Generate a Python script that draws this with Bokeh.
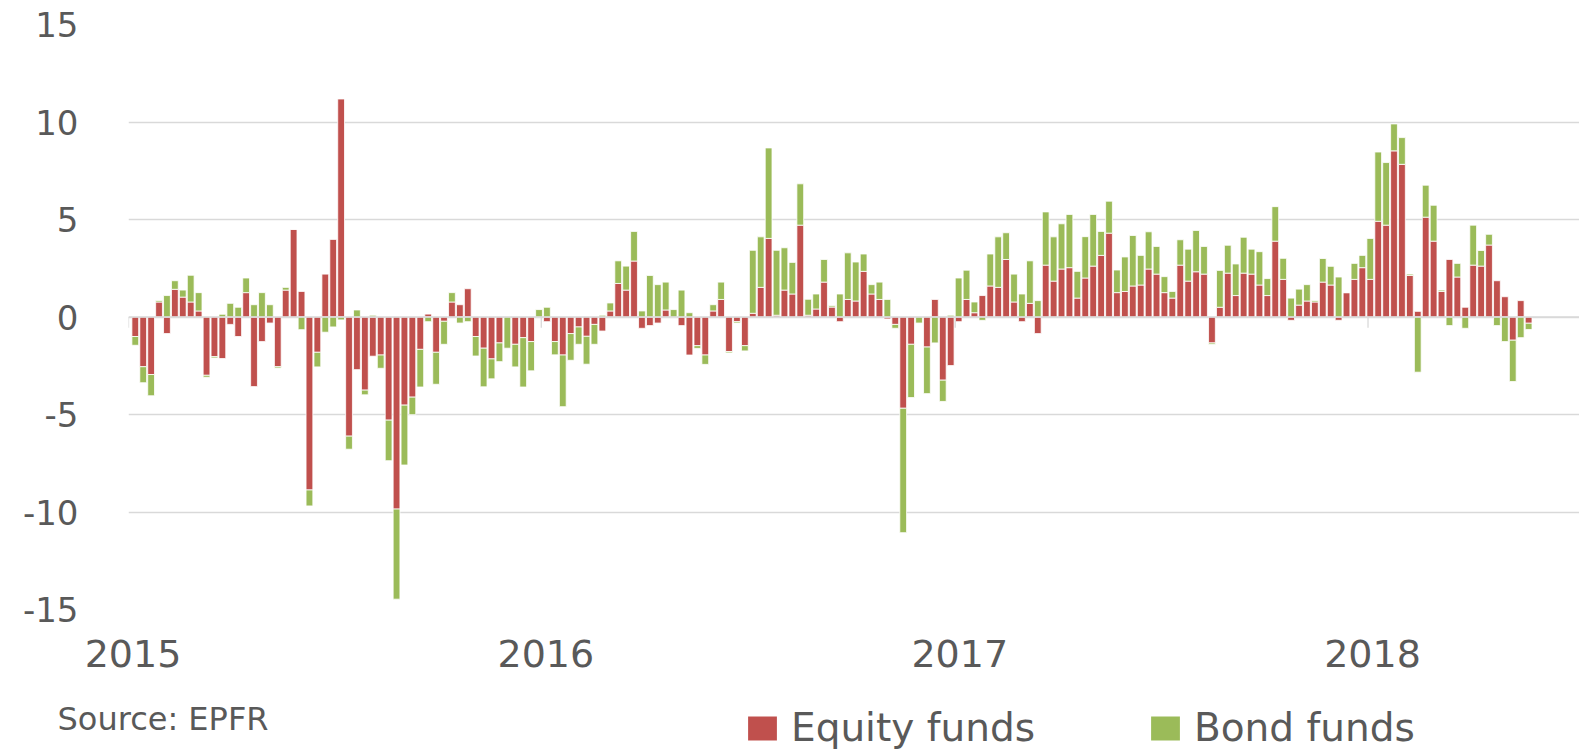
import numpy as np
import pandas as pd
from bokeh.plotting import figure
from bokeh.models import (ColumnDataSource, FixedTicker, Legend, LegendItem, Label,
                          Span, DatetimeTickFormatter, PrintfTickFormatter)
from bokeh.embed import file_html
from bokeh.resources import INLINE

# Weekly fund flows, first week ending 2015-01-07
equity = [
    -1.0, -2.55, -2.95, 0.77, -0.85, 1.42, 1.02, 0.77, 0.31, -2.99,
    -2.03, -2.13, -0.38, -1.0, 1.25, -3.57, -1.26, -0.31, -2.55, 1.38,
    4.5, 1.31, -8.87, -1.81, 2.2, 3.98, 11.18, -6.11, -2.7, -3.75,
    -2.01, -1.95, -5.29, -9.85, -4.52, -4.11, -1.66, 0.15, -1.81, -0.22,
    0.77, 0.63, 1.45, -1.0, -1.6, -2.15, -1.33, 0.0, -1.4, -1.06,
    -1.26, 0.0, -0.24, -1.26, -1.95, -0.85, -0.51, -0.99, -0.38, -0.72,
    0.31, 1.72, 1.38, 2.87, -0.58, -0.44, -0.31, 0.36, 0.0, -0.44,
    -1.95, -1.47, -1.95, 0.31, 0.9, -1.77, -0.24, -1.47, 0.19, 1.52,
    4.03, 0.09, 1.38, 1.18, 4.71, 0.09, 0.41, 1.79, 0.51, -0.24,
    0.9, 0.82, 2.34, 1.18, 0.9, -0.1, -0.38, -4.68, -1.4, 0.0,
    -1.54, 0.9, -3.24, -2.49, -0.24, 0.9, 0.22, 1.1, 1.59, 1.52,
    2.95, 0.77, -0.24, 0.7, -0.85, 2.66, 1.84, 2.46, 2.53, 0.97,
    2.0, 2.61, 3.16, 4.3, 1.25, 1.31, 1.59, 1.64, 2.46, 2.2,
    1.25, 0.97, 2.66, 1.84, 2.32, 2.2, -1.33, 0.5, 2.25, 1.1,
    2.25, 2.2, 1.64, 1.1, 3.89, 1.93, -0.17, 0.61, 0.82, 0.77,
    1.79, 1.64, -0.17, 1.25, 1.93, 2.53, 1.93, 4.91, 4.71, 8.52,
    7.83, 2.13, 0.29, 5.12, 3.89, 1.31, 2.95, 2.05, 0.5, 2.66,
    2.61, 3.69, 1.86, 1.04, -1.19, 0.84, -0.32,
]
bond = [
    -0.45, -0.82, -1.09, 0.08, 1.1, 0.44, 0.36, 1.37, 0.94, -0.1,
    -0.07, 0.14, 0.7, 0.5, 0.75, 0.63, 1.25, 0.63, -0.07, 0.14,
    0.0, -0.65, -0.82, -0.75, -0.78, -0.51, -0.15, -0.67, 0.36, -0.24,
    0.09, -0.68, -2.08, -4.62, -3.07, -0.9, -1.93, -0.24, -1.64, -1.18,
    0.48, -0.31, -0.24, -1.0, -1.98, -1.02, -0.96, -1.6, -1.16, -2.53,
    -1.5, 0.38, 0.5, -0.68, -2.65, -1.37, -0.89, -1.43, -1.02, 0.09,
    0.41, 1.16, 1.23, 1.52, 0.31, 2.13, 1.66, 1.43, 0.38, 1.38,
    0.22, -0.14, -0.48, 0.32, 0.89, -0.07, -0.07, -0.27, 3.23, 2.59,
    4.64, 3.33, 2.17, 1.62, 2.12, 0.82, 0.77, 1.16, 0.07, 1.18,
    2.39, 2.0, 0.89, 0.48, 0.89, 0.9, -0.2, -6.38, -2.73, -0.31,
    -2.39, -1.33, -1.09, 0.09, 2.0, 1.5, 0.55, -0.17, 1.64, 2.59,
    1.37, 1.43, 1.18, 2.18, 0.84, 2.73, 2.27, 2.32, 2.73, 1.37,
    2.12, 2.65, 1.23, 1.64, 1.16, 1.77, 2.59, 1.52, 1.91, 1.42,
    0.82, 0.34, 1.3, 1.64, 2.12, 1.42, -0.07, 1.89, 1.43, 1.62,
    1.84, 1.28, 1.71, 0.87, 1.77, 1.08, 0.97, 0.82, 0.84, 0.07,
    1.21, 0.96, 2.05, 0.0, 0.82, 0.63, 2.1, 3.55, 3.21, 1.38,
    1.37, 0.07, -2.83, 1.64, 1.84, 0.07, -0.44, 0.7, -0.58, 2.05,
    0.8, 0.55, -0.44, -1.26, -2.12, -1.06, -0.32,
]
series_names = ["Equity funds", "Bond funds"]
year_labels = ["2015", "2016", "2017", "2018"]
y_ticks = [-15, -10, -5, 0, 5, 10, 15]
source_text = "Source: EPFR"

RED = "#C0504D"
GREEN = "#9BBB59"
GRID = "#D9D9D9"
TEXT = "#595959"
FONT = "DejaVu Sans"

dates = pd.date_range("2015-01-07", periods=len(equity), freq="7D")
e = np.array(equity, dtype=float)
b = np.array(bond, dtype=float)
b_base = np.where(b >= 0, np.maximum(e, 0), np.minimum(e, 0))
src = ColumnDataSource(dict(x=dates, e0=np.zeros_like(e), e1=e, b0=b_base, b1=b_base + b))

x_start = pd.Timestamp("2015-01-01")
x_end = x_start + pd.Timedelta(days=1283)

p = figure(width=1579, height=690, x_axis_type="datetime",
           x_range=(x_start, x_end), y_range=(-15, 15),
           output_backend="svg", toolbar_location=None,
           min_border_left=128, min_border_right=0,
           min_border_top=24, min_border_bottom=81)
p.outline_line_color = None
p.background_fill_color = "white"

bar_w = pd.Timedelta(days=6).total_seconds() * 1000
r_e = p.vbar(x="x", width=bar_w, bottom="e0", top="e1", source=src,
             fill_color=RED, line_color="white", line_width=0.8)
r_b = p.vbar(x="x", width=bar_w, bottom="b0", top="b1", source=src,
             fill_color=GREEN, line_color="white", line_width=0.8)

# axis crossing line and year tick marks
p.add_layout(Span(location=0, dimension="width", line_color=GRID,
                  line_width=1.6, level="overlay"))
year_starts = pd.to_datetime([f"{y}-01-01" for y in year_labels])
p.segment(x0=year_starts, y0=0, x1=year_starts, y1=-0.55,
          line_color=GRID, line_width=1.3)

# grids
p.xgrid.visible = False
p.ygrid.ticker = FixedTicker(ticks=y_ticks)
p.ygrid.grid_line_color = GRID
p.ygrid.grid_line_width = 1.3

# y axis
p.yaxis.ticker = FixedTicker(ticks=y_ticks)
p.yaxis.formatter = PrintfTickFormatter(format="%d")
p.yaxis.axis_line_color = None
p.yaxis.major_tick_line_color = None
p.yaxis.minor_tick_line_color = None
p.yaxis.major_label_standoff = 44
p.yaxis.major_label_text_font = FONT
p.yaxis.major_label_text_font_size = "34px"
p.yaxis.major_label_text_color = TEXT

# x axis
label_pos = pd.to_datetime([f"{y}-01-05" for y in year_labels])
p.xaxis.ticker = FixedTicker(ticks=[t.value / 1e6 for t in label_pos])
p.xaxis.formatter = DatetimeTickFormatter(years="%Y", months="%Y", days="%Y")
p.xaxis.axis_line_color = None
p.xaxis.major_tick_line_color = None
p.xaxis.minor_tick_line_color = None
p.xaxis.major_label_standoff = 24
p.xaxis.major_label_text_font = FONT
p.xaxis.major_label_text_font_size = "38px"
p.xaxis.major_label_text_color = TEXT

# footer strip (separate root, so its frame is not aligned with the chart)
q = figure(width=1579, height=60, x_range=(0, 1), y_range=(0, 1),
           output_backend="svg", toolbar_location=None,
           x_axis_location=None, y_axis_location=None,
           min_border=0, min_border_left=0, min_border_right=0,
           min_border_top=0, min_border_bottom=0)
q.outline_line_color = None
q.grid.visible = False
# zero-height legend proxies (draw nothing themselves)
proxy = ColumnDataSource(dict(x=[0.5], top=[0.0], bottom=[0.0]))
k_e = q.vbar(x="x", top="top", bottom="bottom", width=0.0, source=proxy,
             fill_color=RED, line_color=None)
k_b = q.vbar(x="x", top="top", bottom="bottom", width=0.0, source=proxy,
             fill_color=GREEN, line_color=None)

for name, rend, xpos in [(series_names[0], k_e, 744), (series_names[1], k_b, 1147)]:
    leg = Legend(items=[LegendItem(label=name, renderers=[rend])],
                 location=(xpos, 0), orientation="horizontal",
                 glyph_width=36, glyph_height=30, label_standoff=11,
                 label_height=30, label_text_font=FONT,
                 label_text_font_size="39px", label_text_color=TEXT,
                 padding=0, margin=0, border_line_alpha=0,
                 background_fill_alpha=0)
    q.add_layout(leg, "center")

q.add_layout(Label(x=57, y=32, x_units="screen", y_units="screen",
                   text=source_text, text_font=FONT, text_font_size="32px",
                   text_color=TEXT, text_baseline="alphabetic"))

open("out.html", "w").write(file_html([p, q], INLINE))
